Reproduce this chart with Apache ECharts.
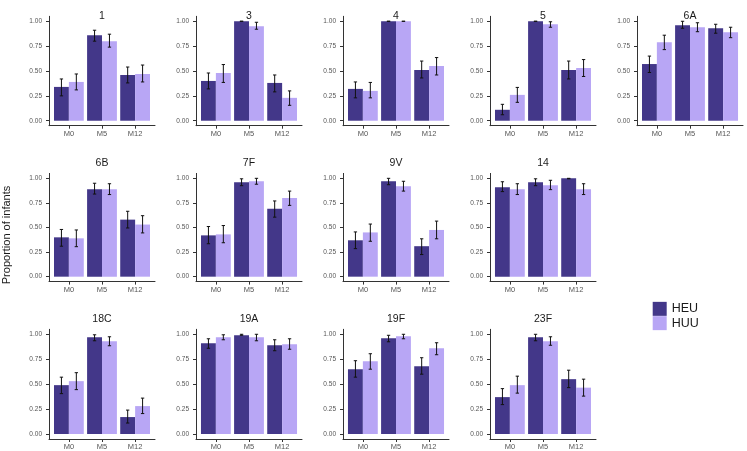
<!DOCTYPE html>
<html><head><meta charset="utf-8">
<script src="https://cdn.jsdelivr.net/npm/echarts@6/dist/echarts.min.js"></script>
<style>html,body{margin:0;padding:0;background:#fff}#c{width:747px;height:451px}</style>
</head><body><div id="c"></div>
<script>
// ---- data ----
const panels = ['1','3','4','5','6A','6B','7F','9V','14','18C','19A','19F','23F'];
const timepoints = ['M0','M5','M12'];
const groups = ['HEU','HUU'];
const yTicks = [0, 0.25, 0.5, 0.75, 1];

const heuValue = [
  [0.34,0.86,0.46],[0.40,1.00,0.38],[0.32,1.00,0.51],[0.11,1.00,0.51],[0.57,0.96,0.93],
  [0.40,0.89,0.58],[0.42,0.96,0.69],[0.37,0.97,0.31],[0.91,0.96,1.00],
  [0.49,0.97,0.17],[0.91,0.99,0.89],[0.65,0.96,0.68],[0.37,0.97,0.55]
];
const heuLow = [
  [0.25,0.80,0.38],[0.32,1.00,0.29],[0.23,1.00,0.43],[0.06,1.00,0.42],[0.485,0.93,0.88],
  [0.31,0.84,0.495],[0.335,0.925,0.605],[0.285,0.935,0.225],[0.865,0.925,0.995],
  [0.405,0.935,0.11],[0.86,0.99,0.835],[0.57,0.925,0.60],[0.295,0.935,0.465]
];
const heuHigh = [
  [0.42,0.91,0.54],[0.48,1.00,0.46],[0.39,1.00,0.60],[0.165,1.00,0.60],[0.65,1.00,0.97],
  [0.48,0.95,0.665],[0.51,0.995,0.77],[0.455,1.00,0.385],[0.965,0.995,1.00],
  [0.57,0.995,0.24],[0.955,1.00,0.945],[0.735,0.99,0.765],[0.455,1.00,0.64]
];
const huuValue = [
  [0.39,0.80,0.47],[0.48,0.95,0.23],[0.30,1.00,0.55],[0.26,0.97,0.53],[0.79,0.94,0.89],
  [0.39,0.89,0.53],[0.43,0.97,0.80],[0.45,0.92,0.475],[0.89,0.93,0.89],
  [0.53,0.93,0.28],[0.97,0.97,0.90],[0.73,0.98,0.86],[0.49,0.93,0.465]
];
const huuLow = [
  [0.31,0.74,0.39],[0.385,0.92,0.155],[0.23,1.00,0.46],[0.185,0.94,0.445],[0.715,0.895,0.835],
  [0.305,0.835,0.445],[0.345,0.94,0.725],[0.36,0.87,0.385],[0.835,0.885,0.835],
  [0.445,0.885,0.205],[0.945,0.935,0.85],[0.65,0.955,0.795],[0.41,0.89,0.38]
];
const huuHigh = [
  [0.47,0.87,0.56],[0.565,0.99,0.30],[0.385,1.00,0.635],[0.335,0.995,0.615],[0.86,0.985,0.94],
  [0.475,0.945,0.62],[0.52,1.00,0.87],[0.535,0.97,0.565],[0.945,0.98,0.945],
  [0.615,0.975,0.36],[0.995,1.00,0.955],[0.805,1.00,0.915],[0.58,0.975,0.55]
];

// ---- style / layout ----
const colors = { HEU: '#433789', HUU: '#B8A6F5' };
const FONT = "'Liberation Sans', Arial, Helvetica, sans-serif";
const colX = [49, 196, 343, 490, 637];
const panelW = 106;
const rowTop = [16.3, 173.4, 329.3];
const rowH = [109.4, 108.2, 109.7];
const titleY = [15.7, 163.3, 319];
const dodge = 0.45;   // bar width in category units (ggplot dodge 0.9 / 2)
const capW = 0.1;     // error bar cap width in category units

function rc(i) { return i < 5 ? [0, i] : (i < 9 ? [1, i - 5] : [2, i - 9]); }

function renderErr(params, api) {
  const x = api.value(0), lo = api.value(1), hi = api.value(2);
  const pLo = api.coord([x, lo]), pHi = api.coord([x, hi]);
  const half = api.size([capW / 2, 0])[0];
  const st = { stroke: '#111', lineWidth: 1 };
  return { type: 'group', children: [
    { type: 'line', shape: { x1: pLo[0], y1: pLo[1], x2: pHi[0], y2: pHi[1] }, style: st },
    { type: 'line', shape: { x1: pLo[0] - half, y1: pLo[1], x2: pLo[0] + half, y2: pLo[1] }, style: st },
    { type: 'line', shape: { x1: pHi[0] - half, y1: pHi[1], x2: pHi[0] + half, y2: pHi[1] }, style: st }
  ]};
}

const grid = [], xAxis = [], yAxis = [], series = [], graphic = [];
const axisLineStyle = { color: '#333', width: 1 };

panels.forEach((name, i) => {
  const [r, c] = rc(i);
  grid.push({ left: colX[c], top: rowTop[r], width: panelW, height: rowH[r], containLabel: false, outerBoundsMode: 'none' });
  xAxis.push({
    type: 'value', gridIndex: i, min: 0.4, max: 3.6,
    axisLine: { show: true, onZero: false, lineStyle: axisLineStyle },
    axisTick: { show: true, length: 3, lineStyle: axisLineStyle, customValues: [1, 2, 3] },
    axisLabel: { customValues: [1, 2, 3], formatter: v => timepoints[Math.round(v) - 1], color: '#555', fontSize: 7.5, fontFamily: FONT, margin: 4 },
    splitLine: { show: false }
  });
  yAxis.push({
    type: 'value', gridIndex: i, min: -0.05, max: 1.05,
    axisLine: { show: true, lineStyle: axisLineStyle },
    axisTick: { show: true, length: 3, lineStyle: axisLineStyle, customValues: yTicks },
    axisLabel: { customValues: yTicks, formatter: v => v.toFixed(2), color: '#555', fontSize: 6.5, fontFamily: FONT, margin: 7 },
    splitLine: { show: false }
  });
  const sets = [
    ['HEU', heuValue, heuLow, heuHigh, -1],
    ['HUU', huuValue, huuLow, huuHigh, 1]
  ];
  sets.forEach(([g, val, lo, hi, side]) => {
    series.push({
      name: g, type: 'bar', xAxisIndex: i, yAxisIndex: i,
      barWidth: '45%', barGap: '0%',
      itemStyle: { color: colors[g] },
      emphasis: { disabled: true },
      data: timepoints.map((t, j) => [j + 1, val[i][j]])
    });
  });
  sets.forEach(([g, val, lo, hi, side]) => {
    series.push({
      name: g + ' CI', type: 'custom', xAxisIndex: i, yAxisIndex: i,
      renderItem: renderErr, z: 5,
      encode: { x: 0, y: [1, 2] },
      data: timepoints.map((t, j) => [j + 1 + side * dodge / 2, lo[i][j], hi[i][j]])
    });
  });
  graphic.push({
    type: 'text', x: colX[c] + panelW / 2, y: titleY[r],
    style: { text: name, textAlign: 'center', textVerticalAlign: 'middle', fontSize: 10.5, fontFamily: FONT, fill: '#1a1a1a' }
  });
});

graphic.push({
  type: 'text', x: 7, y: 235, rotation: Math.PI / 2,
  style: { text: 'Proportion of infants', textAlign: 'center', textVerticalAlign: 'middle', fontSize: 11, fontFamily: FONT, fill: '#1a1a1a' }
});

const chart = echarts.init(document.getElementById('c'), null, { renderer: 'canvas' });
chart.setOption({
  animation: false,
  backgroundColor: '#fff',
  grid, xAxis, yAxis, series, graphic,
  legend: {
    data: groups, orient: 'vertical', left: 652.7, top: 301.7,
    itemWidth: 14, itemHeight: 14, itemGap: 0, padding: 0, icon: 'rect',
    textStyle: { fontSize: 12.5, lineHeight: 14.3, color: '#1a1a1a', fontFamily: FONT }
  },
  tooltip: { show: false }
});
</script>
</body></html>
